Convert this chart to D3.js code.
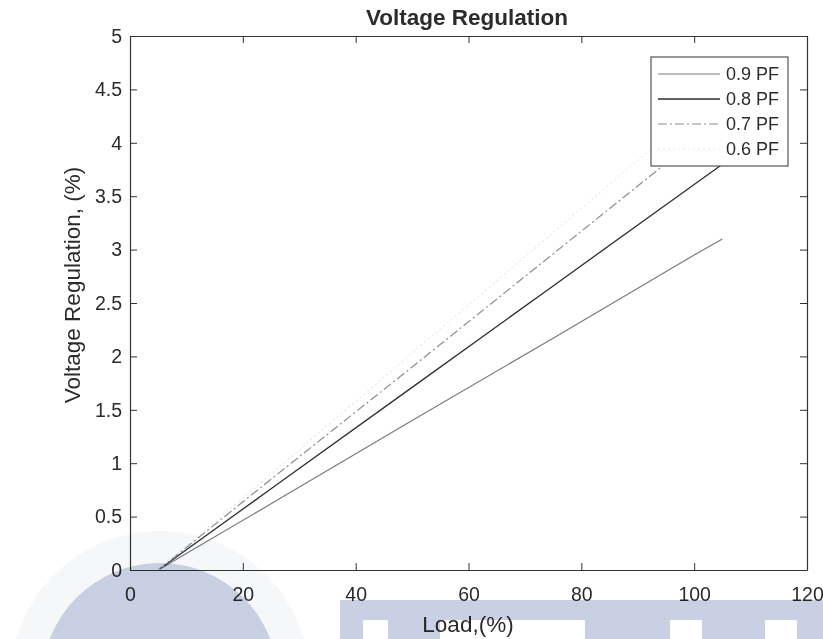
<!DOCTYPE html>
<html>
<head>
<meta charset="utf-8">
<script src="https://cdn.jsdelivr.net/npm/d3@7/dist/d3.min.js"></script>
<style>
  html, body { margin: 0; padding: 0; background: #fff; }
  svg { display: block; font-family: "Liberation Sans", Arial, sans-serif; }
</style>
</head>
<body>
<svg id="chart" width="823" height="639"></svg>
<script>
// ---- data ----
const load = [5, 25, 50, 75, 100, 105];
const pf09 = [0, 0.62, 1.40, 2.17, 2.95, 3.10];
const pf08 = [0, 0.76, 1.71, 2.66, 3.61, 3.80];
const pf07 = [0, 0.85, 1.90, 2.96, 4.02, 4.23];
const pf06 = [0, 0.90, 2.03, 3.16, 4.29, 4.52];
const seriesNames = ["0.9 PF", "0.8 PF", "0.7 PF", "0.6 PF"];
const xTicks = [0, 20, 40, 60, 80, 100, 120];
const yTicks = [0, 0.5, 1, 1.5, 2, 2.5, 3, 3.5, 4, 4.5, 5];

const series = [
  { name: seriesNames[0], values: pf09, color: "#7a7a7a", width: 1.2, dash: null },
  { name: seriesNames[1], values: pf08, color: "#2e2e2e", width: 1.3, dash: null },
  { name: seriesNames[2], values: pf07, color: "#8c8c8c", width: 1.2, dash: "9,3,2,3" },
  { name: seriesNames[3], values: pf06, color: "#e8e8e8", width: 1.2, dash: "2,3" }
];

const svg = d3.select("#chart");
const L = 130, T = 36, R = 807, B = 570;
const x = d3.scaleLinear().domain([0, 120]).range([L, R]);
const y = d3.scaleLinear().domain([0, 5]).range([B, T]);
const textColor = "#2b2b2b";
const axisColor = "#333";
const tickLen = 7;

// plot area
svg.append("rect").attr("x", L).attr("y", T).attr("width", R - L).attr("height", B - T).attr("fill", "#fff");

// lines
const line = d3.line().x((d, i) => x(load[i])).y(d => y(d));
series.forEach(s => {
  svg.append("path")
    .datum(s.values)
    .attr("d", line)
    .attr("fill", "none")
    .attr("stroke", s.color)
    .attr("stroke-width", s.width)
    .attr("stroke-dasharray", s.dash);
});

// axes (ticks inside, box on)
const fmt = d => String(d);
const xAxisB = d3.axisBottom(x).tickValues(xTicks).tickSizeInner(-tickLen).tickSizeOuter(0).tickPadding(17).tickFormat(fmt);
const xAxisT = d3.axisTop(x).tickValues(xTicks).tickSizeInner(-tickLen).tickSizeOuter(0).tickFormat("");
const yAxisL = d3.axisLeft(y).tickValues(yTicks).tickSizeInner(-tickLen).tickSizeOuter(0).tickPadding(17).tickFormat(fmt);
const yAxisR = d3.axisRight(y).tickValues(yTicks).tickSizeInner(-tickLen).tickSizeOuter(0).tickFormat("");

const gxB = svg.append("g").attr("transform", `translate(0,${B})`).call(xAxisB);
const gxT = svg.append("g").attr("transform", `translate(0,${T})`).call(xAxisT);
const gyL = svg.append("g").attr("transform", `translate(${L},0)`).call(yAxisL);
const gyR = svg.append("g").attr("transform", `translate(${R},0)`).call(yAxisR);
[gxB, gxT, gyL, gyR].forEach(g => {
  g.selectAll(".domain").attr("stroke", axisColor).attr("stroke-width", 1.2);
  g.selectAll(".tick line").attr("stroke", axisColor).attr("stroke-width", 1);
  g.selectAll(".tick text").attr("fill", textColor).style("font-size", "19.5px").style("font-family", "'Liberation Sans', Arial, sans-serif");
});
gxB.selectAll(".tick text").attr("dy", "0.71em").attr("y", 17);
gyL.selectAll(".tick text").attr("x", -8);

// title
svg.append("text").attr("x", 467).attr("y", 25).attr("text-anchor", "middle")
  .attr("fill", textColor).style("font-size", "22.5px").style("font-weight", "bold")
  .text("Voltage Regulation");

// axis labels
svg.append("text").attr("x", 468).attr("y", 632).attr("text-anchor", "middle")
  .attr("fill", textColor).style("font-size", "22.5px").text("Load,(%)");
svg.append("text").attr("transform", "translate(80,285) rotate(-90)").attr("text-anchor", "middle")
  .attr("fill", textColor).style("font-size", "22.5px").text("Voltage Regulation, (%)");

// legend
const lg = svg.append("g");
lg.append("rect").attr("x", 651).attr("y", 57).attr("width", 137).attr("height", 109)
  .attr("fill", "#fff").attr("stroke", axisColor).attr("stroke-width", 1);
const rowY = [74, 99, 124, 149];
series.forEach((s, i) => {
  lg.append("line").attr("x1", 658).attr("x2", 720).attr("y1", rowY[i]).attr("y2", rowY[i])
    .attr("stroke", s.color).attr("stroke-width", s.width).attr("stroke-dasharray", s.dash);
  lg.append("text").attr("x", 726).attr("y", rowY[i]).attr("dy", "0.35em")
    .attr("fill", textColor).style("font-size", "18px").text(s.name);
});

// background watermark (scanned page overlay)
const wm = svg.append("g").style("mix-blend-mode", "multiply").attr("pointer-events", "none");
wm.append("circle").attr("cx", 160).attr("cy", 681).attr("r", 150).attr("fill", "#f6f7f9");
wm.append("circle").attr("cx", 160).attr("cy", 681).attr("r", 118).attr("fill", "#c8cfe3");
const bandFill = "#c9d0e3";
wm.append("rect").attr("x", 340).attr("y", 600).attr("width", 483).attr("height", 20).attr("fill", bandFill);
[[340, 363], [388, 440], [585, 670], [702, 765], [797, 823]].forEach(([a, b]) => {
  wm.append("rect").attr("x", a).attr("y", 620).attr("width", b - a).attr("height", 19).attr("fill", bandFill);
});
</script>
</body>
</html>
